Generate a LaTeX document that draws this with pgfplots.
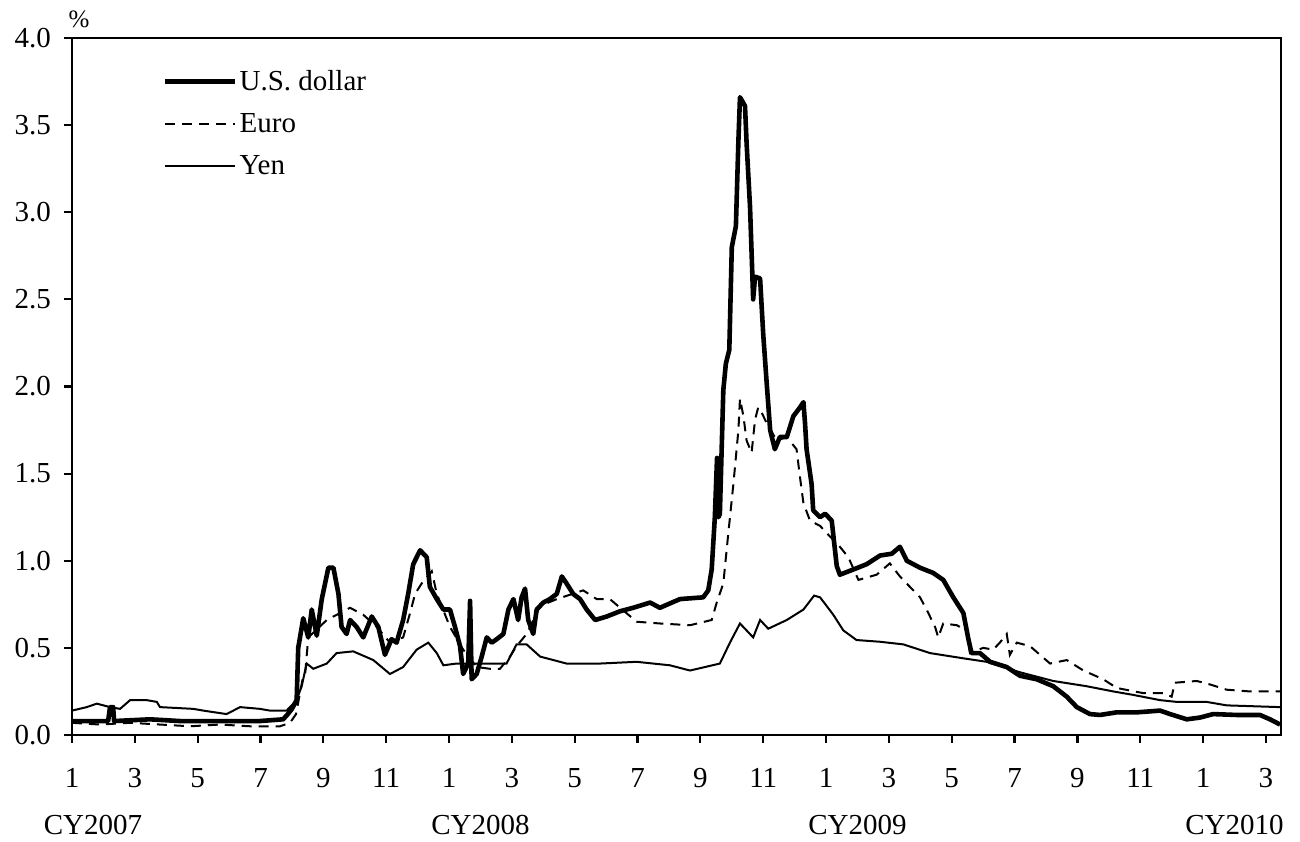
\documentclass[border=0pt]{standalone}
\usepackage{fontspec}
\setmainfont{Liberation Serif}
\usepackage{pgfplots}
\pgfplotsset{compat=1.18}

\newcommand{\lblfont}{\fontsize{14.5}{17}\selectfont}

\begin{document}
\begin{tikzpicture}[font=\lblfont]
  \begin{axis}[
      scale only axis,
      clip mode=individual,
      width=604.5pt, height=348.5pt,
      xmin=0, xmax=38.48, ymin=0, ymax=4,
      axis line style={line width=1.1pt},
      tick style={line width=1.1pt, black},
      tick align=outside,
      major tick length=4pt,
      xtick pos=bottom, ytick pos=left,
      xtick={0,2,...,38},
      xticklabels={1,3,5,7,9,11,1,3,5,7,9,11,1,3,5,7,9,11,1,3},
      ytick={0,0.5,...,4},
      yticklabel style={xshift=-3pt, /pgf/number format/.cd, fixed, fixed zerofill, precision=1, assume math mode=true},
      xticklabel style={yshift=-9pt},
      tick label style={font=\lblfont},
      legend cell align=left,
      legend style={at={(axis description cs:0.07,0.966)}, anchor=north west,
        draw=none, fill=none, font=\lblfont, row sep=6pt,
        nodes={inner xsep=1pt}},
      legend image code/.code={\draw[#1] (0pt,0pt) -- (35pt,0pt);},
    ]
    % U.S. dollar (x: months since Jan 2007)
    \addplot[black, line width=2.3pt, line join=round] coordinates {
      (0.00,0.08) (0.57,0.08) (1.15,0.08) (1.21,0.16) (1.31,0.16) (1.34,0.08)
      (2.48,0.09) (3.44,0.08) (4.71,0.08) (5.98,0.08) (6.72,0.09) (6.87,0.12)
      (7.00,0.15) (7.15,0.20) (7.20,0.50) (7.36,0.67) (7.52,0.56) (7.63,0.72)
      (7.79,0.57) (7.95,0.78) (8.16,0.96) (8.32,0.96) (8.48,0.81) (8.58,0.62)
      (8.74,0.58) (8.85,0.66) (9.06,0.62) (9.27,0.56) (9.54,0.68) (9.75,0.62)
      (9.96,0.46) (10.17,0.55) (10.33,0.53) (10.54,0.66) (10.70,0.81) (10.86,0.98)
      (11.08,1.06) (11.29,1.02) (11.39,0.85) (11.61,0.78) (11.82,0.72) (12.03,0.72)
      (12.19,0.62) (12.35,0.51) (12.45,0.35) (12.61,0.41) (12.67,0.77) (12.72,0.32)
      (12.88,0.35) (13.04,0.45) (13.20,0.56) (13.36,0.53) (13.52,0.55) (13.73,0.58)
      (13.89,0.72) (14.05,0.78) (14.20,0.66) (14.31,0.79) (14.42,0.84) (14.52,0.66)
      (14.68,0.58) (14.79,0.72) (15.00,0.76) (15.21,0.78) (15.43,0.81) (15.59,0.91)
      (15.74,0.87) (15.95,0.81) (16.17,0.78) (16.38,0.72) (16.65,0.66) (17.02,0.68)
      (17.44,0.71) (17.86,0.73) (18.40,0.76) (18.71,0.73) (19.35,0.78) (20.09,0.79)
      (20.25,0.83) (20.36,0.95) (20.46,1.25) (20.53,1.59) (20.58,1.25) (20.62,1.27)
      (20.73,1.98) (20.81,2.13) (20.92,2.21) (21.00,2.80) (21.13,2.92) (21.21,3.41)
      (21.26,3.66) (21.42,3.61) (21.47,3.40) (21.58,3.03) (21.68,2.50) (21.74,2.63)
      (21.90,2.62) (22.00,2.30) (22.11,2.02) (22.22,1.75) (22.37,1.64) (22.53,1.71)
      (22.75,1.71) (22.96,1.83) (23.17,1.88) (23.28,1.91) (23.33,1.79) (23.38,1.64)
      (23.54,1.44) (23.59,1.29) (23.81,1.25) (23.97,1.27) (24.18,1.23) (24.34,0.97)
      (24.44,0.92) (24.87,0.95) (25.29,0.98) (25.72,1.03) (26.09,1.04) (26.35,1.08)
      (26.57,1.00) (26.99,0.96) (27.41,0.93) (27.73,0.89) (28.05,0.79) (28.37,0.70)
      (28.53,0.55) (28.63,0.47) (28.90,0.47) (29.22,0.42) (29.75,0.39) (30.17,0.34)
      (30.70,0.32) (31.23,0.28) (31.66,0.22) (31.98,0.16) (32.40,0.12) (32.72,0.115)
      (33.25,0.13) (33.89,0.13) (34.63,0.14) (34.95,0.12) (35.48,0.09) (35.90,0.10)
      (36.32,0.12) (37.07,0.115) (37.81,0.115) (38.13,0.09) (38.45,0.06)
    };
    \addlegendentry{U.S. dollar}
    % Euro
    \addplot[black, line width=1pt, dash pattern=on 5pt off 3.5pt] coordinates {
      (0.00,0.07) (0.89,0.06) (1.85,0.07) (2.80,0.06) (3.76,0.05) (4.71,0.06)
      (5.67,0.05) (6.62,0.05) (6.94,0.07) (7.13,0.12) (7.36,0.34) (7.42,0.35)
      (7.52,0.56) (8.11,0.66) (8.85,0.73) (9.27,0.69) (9.70,0.62) (10.12,0.53)
      (10.54,0.56) (10.76,0.70) (10.92,0.81) (11.13,0.87) (11.45,0.94) (11.61,0.81)
      (12.03,0.62) (12.45,0.49) (12.88,0.39) (13.30,0.38) (13.62,0.38) (13.94,0.45)
      (14.15,0.51) (14.47,0.58) (14.90,0.74) (15.43,0.78) (16.27,0.83) (16.70,0.78)
      (17.12,0.78) (17.97,0.65) (18.71,0.64) (19.67,0.63) (20.36,0.66) (20.52,0.76)
      (20.73,0.87) (20.89,1.16) (21.05,1.44) (21.21,1.75) (21.26,1.93) (21.37,1.83)
      (21.47,1.69) (21.63,1.62) (21.74,1.81) (21.84,1.88) (21.95,1.85) (22.11,1.79)
      (22.43,1.69) (22.75,1.71) (23.06,1.64) (23.17,1.48) (23.28,1.33) (23.49,1.23)
      (23.81,1.20) (24.12,1.14) (24.44,1.08) (24.71,1.02) (25.03,0.89) (25.61,0.92)
      (26.03,0.985) (26.35,0.91) (26.67,0.85) (26.99,0.79) (27.20,0.72) (27.47,0.62)
      (27.57,0.56) (27.73,0.64) (28.16,0.63) (28.47,0.60) (28.58,0.47) (29.00,0.50)
      (29.32,0.49) (29.53,0.53) (29.75,0.58) (29.85,0.46) (30.07,0.53) (30.49,0.51)
      (31.13,0.41) (31.66,0.43) (32.19,0.37) (32.82,0.32) (33.25,0.27) (34.10,0.24)
      (34.73,0.24) (35.00,0.22) (35.10,0.30) (35.80,0.31) (36.22,0.29) (36.75,0.26)
      (37.49,0.25) (38.45,0.25)
    };
    \addlegendentry{Euro}
    % Yen
    \addplot[black, line width=1pt] coordinates {
      (0.00,0.14) (0.47,0.16) (0.79,0.18) (1.21,0.16) (1.53,0.15) (1.85,0.20)
      (2.38,0.20) (2.70,0.19) (2.80,0.16) (3.86,0.15) (4.18,0.14) (4.92,0.12)
      (5.35,0.16) (5.98,0.15) (6.30,0.14) (6.83,0.14) (7.15,0.20) (7.31,0.28)
      (7.47,0.41) (7.68,0.38) (8.11,0.41) (8.42,0.47) (8.95,0.48) (9.59,0.43)
      (10.12,0.35) (10.54,0.39) (10.97,0.49) (11.34,0.53) (11.61,0.47) (11.82,0.40)
      (12.24,0.41) (13.09,0.41) (13.83,0.41) (14.15,0.52) (14.47,0.52) (14.90,0.45)
      (15.74,0.41) (16.80,0.41) (17.97,0.42) (19.03,0.40) (19.67,0.37) (20.62,0.41)
      (20.94,0.53) (21.26,0.64) (21.68,0.56) (21.90,0.66) (22.16,0.61) (22.75,0.66)
      (23.28,0.72) (23.62,0.80) (23.81,0.79) (24.23,0.69) (24.55,0.60) (24.97,0.545)
      (25.72,0.535) (26.46,0.52) (27.31,0.47) (28.37,0.44) (29.11,0.42) (30.17,0.36)
      (31.23,0.31) (32.29,0.28) (33.14,0.25) (33.78,0.23) (34.63,0.20) (35.16,0.19)
      (36.11,0.19) (36.75,0.17) (38.45,0.16)
    };
    \addlegendentry{Yen}

    \node[font=\fontsize{12.5}{14}\selectfont] at ([xshift=3.5pt,yshift=9.5pt]rel axis cs:0,1) {\%};
    \node at ([yshift=-45pt]axis cs:0.67,0) {CY2007};
    \node at ([yshift=-45pt]axis cs:13.0,0) {CY2008};
    \node at ([yshift=-45pt]axis cs:25.0,0) {CY2009};
    \node at ([yshift=-45pt]axis cs:37.0,0) {CY2010};
  \end{axis}
  \path (current axis.south west) ++(-36pt,-53pt) rectangle ++(650pt,420.5pt);
\end{tikzpicture}
\end{document}
